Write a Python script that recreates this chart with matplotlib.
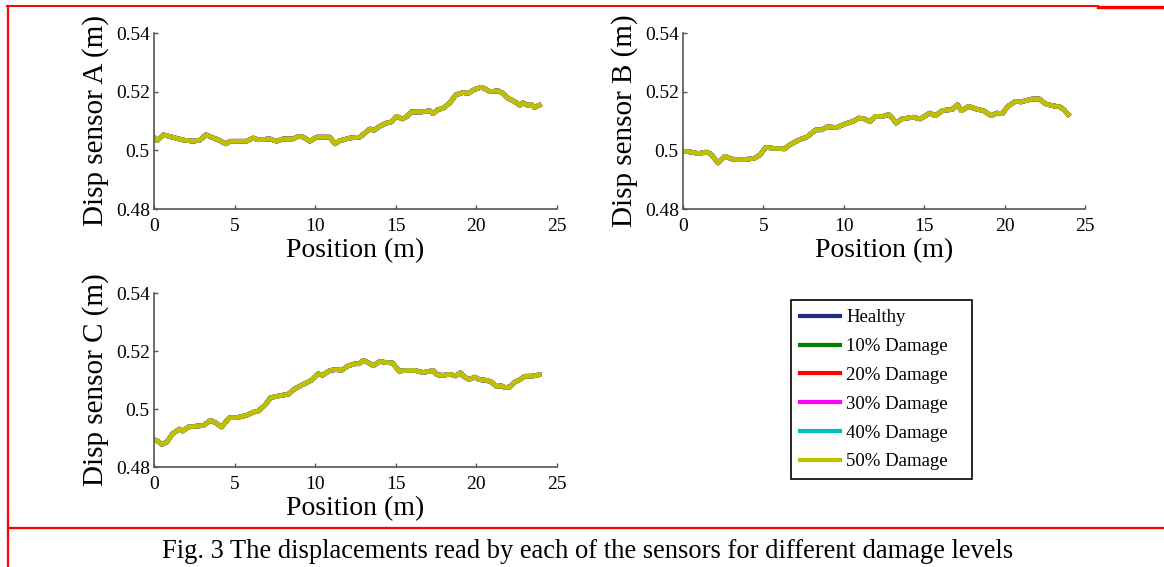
import matplotlib
matplotlib.use('Agg')
import matplotlib.pyplot as plt
from matplotlib.lines import Line2D
from matplotlib.patches import Rectangle
from matplotlib.ticker import FuncFormatter

plt.rcParams['font.family'] = ['Liberation Serif', 'DejaVu Serif']

# displacement read at each sensor (same for all damage levels within line width)
pos_a = [0, 0.2, 0.58, 0.99, 1.82, 2.44, 2.85, 3.22, 3.57, 4.09, 4.46, 4.71, 5.74,
         6.16, 6.46, 7.19, 7.6, 8.02, 8.64, 8.95, 9.26, 9.67, 10.08, 10.91, 11.22,
         11.53, 12.15, 12.77, 13.39, 13.64, 14.01, 14.42, 14.73, 15.04, 15.41, 15.66,
         15.97, 16.49, 17.11, 17.31, 17.62, 17.93, 18.35, 18.72, 19.17, 19.48, 19.9,
         20.31, 20.52, 20.83, 21.35, 21.66, 21.97, 22.38, 22.69, 22.89, 23.2, 23.4,
         23.6, 23.9]
disp_a = [0.5045, 0.5033, 0.5053, 0.5047, 0.5035, 0.5031, 0.5035, 0.5053, 0.5045,
          0.5033, 0.5022, 0.5031, 0.5031, 0.5042, 0.5036, 0.5039, 0.5031, 0.5039,
          0.5039, 0.5048, 0.5045, 0.5031, 0.5045, 0.5045, 0.5022, 0.5033, 0.5042,
          0.5045, 0.5073, 0.5068, 0.5082, 0.5093, 0.5097, 0.5116, 0.5107, 0.5114,
          0.5131, 0.5130, 0.5135, 0.5125, 0.5139, 0.5143, 0.5162, 0.5189, 0.5197,
          0.5194, 0.5208, 0.5215, 0.5210, 0.5200, 0.5203, 0.5194, 0.5177, 0.5166,
          0.5154, 0.5162, 0.5153, 0.5157, 0.5146, 0.5154]

pos_b = [0, 0.51, 0.97, 1.44, 1.71, 2.18, 2.6, 3.06, 3.75, 4.45, 4.8, 5.14, 5.61,
         6.3, 6.65, 7.23, 7.69, 8.27, 8.62, 8.97, 9.55, 10.13, 10.59, 10.94, 11.28,
         11.63, 11.98, 12.44, 12.79, 13.02, 13.25, 13.6, 14.3, 14.76, 15.34, 15.69,
         16.15, 16.73, 17.07, 17.31, 17.77, 18.23, 18.7, 19.16, 19.51, 19.86, 20.2,
         20.67, 21.01, 21.36, 21.71, 22.17, 22.52, 22.99, 23.45, 23.68, 23.96]
disp_b = [0.4997, 0.4994, 0.4989, 0.4994, 0.4989, 0.4957, 0.4980, 0.4970, 0.4968,
          0.4973, 0.4985, 0.5010, 0.5007, 0.5005, 0.5019, 0.5036, 0.5045, 0.5070,
          0.5070, 0.5080, 0.5078, 0.5091, 0.5099, 0.5110, 0.5107, 0.5098, 0.5116,
          0.5116, 0.5122, 0.5110, 0.5093, 0.5107, 0.5113, 0.5107, 0.5127, 0.5118,
          0.5136, 0.5139, 0.5156, 0.5135, 0.5150, 0.5141, 0.5135, 0.5118, 0.5127,
          0.5125, 0.5150, 0.5167, 0.5165, 0.5170, 0.5175, 0.5175, 0.5159, 0.5152,
          0.5148, 0.5139, 0.5122]

pos_c = [0, 0.21, 0.48, 0.79, 1.16, 1.57, 1.78, 2.13, 2.64, 3.06, 3.51, 3.84, 4.19,
         4.67, 5.12, 5.74, 6.16, 6.47, 6.88, 7.23, 7.81, 8.33, 8.74, 9.26, 9.77,
         10.19, 10.45, 10.91, 11.32, 11.63, 12.05, 12.46, 12.73, 12.98, 13.29, 13.6,
         14.01, 14.42, 14.79, 15.21, 15.66, 16.18, 16.69, 17.0, 17.31, 17.56, 17.93,
         18.35, 18.72, 19.0, 19.28, 19.55, 19.9, 20.2, 20.62, 20.93, 21.24, 21.55,
         21.76, 22.07, 22.38, 22.69, 23.0, 23.41, 23.72, 23.9]
disp_c = [0.4894, 0.4890, 0.4878, 0.4886, 0.4915, 0.4931, 0.4924, 0.4938, 0.4941,
          0.4943, 0.4961, 0.4952, 0.4938, 0.4970, 0.4970, 0.4978, 0.4989, 0.4993,
          0.5013, 0.5039, 0.5046, 0.5051, 0.5070, 0.5085, 0.5099, 0.5122, 0.5116,
          0.5133, 0.5136, 0.5133, 0.5149, 0.5156, 0.5156, 0.5168, 0.5160, 0.5149,
          0.5164, 0.5160, 0.5159, 0.5131, 0.5133, 0.5133, 0.5126, 0.5129, 0.5133,
          0.5118, 0.5116, 0.5120, 0.5114, 0.5125, 0.5110, 0.5102, 0.5110, 0.5101,
          0.5099, 0.5093, 0.5078, 0.5080, 0.5074, 0.5076, 0.5093, 0.5101, 0.5113,
          0.5113, 0.5116, 0.5118]

levels = ['Healthy', '10% Damage', '20% Damage', '30% Damage', '40% Damage', '50% Damage']
colors = ['#1c2a80', '#008000', '#ff0000', '#ff00ff', '#00c0c0', '#c0c000']

sensors = [('A', pos_a, disp_a), ('B', pos_b, disp_b), ('C', pos_c, disp_c)]
W, H = 1164, 567
# axes boxes in pixels: left, top, right, bottom
boxes = [(154, 33, 557, 209), (683, 33, 1085, 209), (154, 293, 557, 467)]

fig = plt.figure(figsize=(W / 100, H / 100), dpi=100)

for (name, x, y), (l, t, r, b) in zip(sensors, boxes):
    ax = fig.add_axes([l / W, 1 - b / H, (r - l) / W, (b - t) / H])
    for lab, c in zip(levels, colors):
        ax.plot(x, y, color=c, lw=3.3, label=lab, solid_joinstyle='round')
    ax.set_xlim(0, 25)
    ax.set_ylim(0.48, 0.54)
    ax.set_xticks([0, 5, 10, 15, 20, 25])
    ax.set_yticks([0.48, 0.50, 0.52, 0.54])
    ax.yaxis.set_major_formatter(FuncFormatter(lambda v, p: '%g' % round(v, 2)))
    for s in ['top', 'right']:
        ax.spines[s].set_visible(False)
    for s in ['left', 'bottom']:
        ax.spines[s].set_color('#555555')
        ax.spines[s].set_linewidth(1.2)
    ax.tick_params(direction='in', length=3, width=1, color='#555555',
                   labelsize=14, pad=3)
    ax.tick_params(axis='x', pad=6.5)
    ax.set_xlabel('Position (m)', fontsize=20, labelpad=2)
    ax.set_ylabel('Disp sensor %s (m)' % name, fontsize=21)
    ax.yaxis.set_label_coords(-0.112, 0.5)

# legend in its own framed box
lx0, ly0, lx1, ly1 = 791, 300, 972, 479
fig.add_artist(Rectangle((lx0 / W, 1 - ly1 / H), (lx1 - lx0) / W, (ly1 - ly0) / H,
                         transform=fig.transFigure, fill=False, ec='black', lw=1.2))
handles = [Line2D([], [], color=c, lw=3) for c in colors]
fig.legend(handles, levels, loc='upper left', bbox_to_anchor=(lx0 / W, 1 - ly0 / H),
           frameon=False, fontsize=13.5, handlelength=2.1, handletextpad=0.35,
           labelspacing=0.62, borderpad=0.3, borderaxespad=0.2)

# page borders around the figure cell
red = '#ff0000'
fig.add_artist(Line2D([7 / W, 1098 / W], [1 - 6 / H, 1 - 6 / H], color=red, lw=1.4,
                      transform=fig.transFigure))
fig.add_artist(Line2D([1098 / W, 1], [1 - 7 / H, 1 - 7 / H], color=red, lw=2.4,
                      transform=fig.transFigure))
fig.add_artist(Line2D([8 / W, 8 / W], [0, 1 - 6 / H], color=red, lw=1.6,
                      transform=fig.transFigure))
fig.add_artist(Line2D([8 / W, 1], [1 - 528 / H, 1 - 528 / H], color=red, lw=1.6,
                      transform=fig.transFigure))

fig.text(588 / W, 1 - 558 / H,
         'Fig. 3 The displacements read by each of the sensors for different damage levels',
         ha='center', va='baseline', fontsize=19.1)

fig.savefig('out.png', dpi=100)
